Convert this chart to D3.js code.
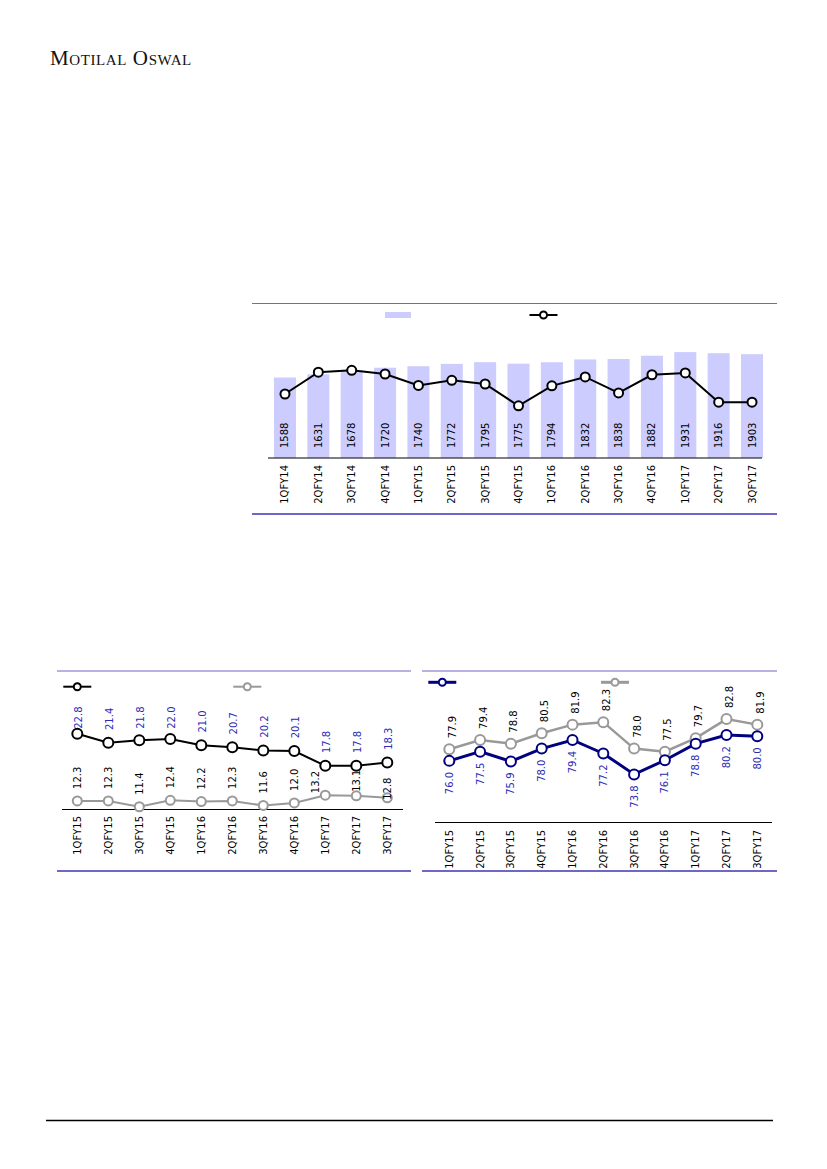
<!DOCTYPE html>
<html>
<head>
<meta charset="utf-8">
<script src="https://cdn.jsdelivr.net/npm/d3@7"></script>
<style>
  body { margin: 0; background: #fff; }
  svg { display: block; font-family: "DejaVu Sans", Verdana, sans-serif; }
</style>
</head>
<body>
<svg id="page" width="827" height="1169"></svg>
<script>
// Top chart: volumes (bars) and a line on a hidden secondary scale
var quartersTop = ['1QFY14', '2QFY14', '3QFY14', '4QFY14', '1QFY15', '2QFY15', '3QFY15', '4QFY15',
    '1QFY16', '2QFY16', '3QFY16', '4QFY16', '1QFY17', '2QFY17', '3QFY17'];
var topBars = [1588, 1631, 1678, 1720, 1740, 1772, 1795, 1775, 1794, 1832, 1838, 1882, 1931, 1916, 1903];
var topLine = [17.3, 23.2, 23.7, 22.7, 19.6, 21.0, 20.0, 14.1, 19.5, 21.9, 17.6, 22.5, 23.0, 15.1, 15.1];

// Bottom charts share the quarters
var quartersBottom = ['1QFY15', '2QFY15', '3QFY15', '4QFY15', '1QFY16', '2QFY16', '3QFY16', '4QFY16',
    '1QFY17', '2QFY17', '3QFY17'];
var leftBlack = [22.8, 21.4, 21.8, 22.0, 21.0, 20.7, 20.2, 20.1, 17.8, 17.8, 18.3];
var leftGrey = [12.3, 12.3, 11.4, 12.4, 12.2, 12.3, 11.6, 12.0, 13.2, 13.1, 12.8];
var rightNavy = [76.0, 77.5, 75.9, 78.0, 79.4, 77.2, 73.8, 76.1, 78.8, 80.2, 80.0];
var rightGrey = [77.9, 79.4, 78.8, 80.5, 81.9, 82.3, 78.0, 77.5, 79.7, 82.8, 81.9];

var svg = d3.select('#page');
var frameColor = '#6f67c4';
var labelBlue = '#2b2bb8';
var fontSize = '10px';

/**** Header and footer ****/
svg.append('text')
    .attr('x', 50).attr('y', 65)
    .style('font-family', '"Liberation Serif", "DejaVu Serif", serif')
    .style('font-variant', 'small-caps')
    .style('font-size', '21px')
    .style('letter-spacing', '0.6px')
    .attr('fill', '#111')
    .text('Motilal Oswal');

svg.append('line')
    .attr('x1', 46).attr('x2', 773)
    .attr('y1', 1120.5).attr('y2', 1120.5)
    .attr('stroke', '#000').attr('stroke-width', 1.3);

function frame(x1, x2, yTop, yBottom) {
    svg.append('line').attr('x1', x1).attr('x2', x2)
        .attr('y1', yTop).attr('y2', yTop)
        .attr('stroke', frameColor).attr('stroke-width', 1.2);
    svg.append('line').attr('x1', x1).attr('x2', x2)
        .attr('y1', yBottom).attr('y2', yBottom)
        .attr('stroke', frameColor).attr('stroke-width', 2);
}

function xLabels(g, scale, cats, y) {
    g.selectAll('.xl')
        .data(cats)
        .enter()
        .append('text')
        .attr('class', 'xl')
        .attr('transform', function(d) {
            return 'translate(' + (scale(d) + 3.5) + ',' + y + ') rotate(-90)';
        })
        .attr('text-anchor', 'end')
        .style('font-size', fontSize)
        .attr('fill', '#000')
        .text(function(d) { return d; });
}

function lineSeries(g, x, y, cats, values, color, width, r) {
    var line = d3.line()
        .x(function(d, i) { return x(cats[i]); })
        .y(function(d) { return y(d); });

    g.append('path')
        .datum(values)
        .attr('d', line)
        .attr('fill', 'none')
        .attr('stroke', color)
        .attr('stroke-width', width);

    g.selectAll(null)
        .data(values)
        .enter()
        .append('circle')
        .attr('cx', function(d, i) { return x(cats[i]); })
        .attr('cy', function(d) { return y(d); })
        .attr('r', r)
        .attr('fill', '#fff')
        .attr('stroke', color)
        .attr('stroke-width', 2);
}

function legendLine(x, y, color, width) {
    svg.append('line').attr('x1', x - 14).attr('x2', x + 14)
        .attr('y1', y).attr('y2', y)
        .attr('stroke', color).attr('stroke-width', width);
    svg.append('circle').attr('cx', x).attr('cy', y).attr('r', 3.5)
        .attr('fill', '#fff').attr('stroke', color).attr('stroke-width', 2);
}

/**** Top chart ****/
(function() {
    frame(252, 777, 303.5, 514);
    var g = svg.append('g');

    var x = d3.scaleBand()
        .domain(quartersTop)
        .range([268.3, 768.7])
        .paddingInner(0.34)
        .paddingOuter(0.17);

    var y = d3.scaleLinear().domain([500, 2500]).range([458, 310]);
    var y2 = d3.scaleLinear().domain([0, 40]).range([458, 310]);

    g.selectAll('.bar')
        .data(topBars)
        .enter()
        .append('rect')
        .attr('class', 'bar')
        .attr('x', function(d, i) { return x(quartersTop[i]); })
        .attr('width', x.bandwidth())
        .attr('y', function(d) { return y(d); })
        .attr('height', function(d) { return y(500) - y(d); })
        .attr('fill', '#ccccff');

    g.selectAll('.barlabel')
        .data(topBars)
        .enter()
        .append('text')
        .attr('class', 'barlabel')
        .attr('transform', function(d, i) {
            return 'translate(' + (x(quartersTop[i]) + x.bandwidth() / 2 + 3.5) + ',448) rotate(-90)';
        })
        .style('font-size', fontSize)
        .attr('fill', '#000')
        .text(function(d) { return d; });

    g.append('line')
        .attr('x1', 268).attr('x2', 762)
        .attr('y1', 458).attr('y2', 458)
        .attr('stroke', '#000').attr('stroke-width', 1);

    var xc = function(d) { return x(d) + x.bandwidth() / 2; };
    lineSeries(g, xc, y2, quartersTop, topLine, '#000', 2, 4.5);

    xLabels(g, xc, quartersTop, 465);

    svg.append('rect').attr('x', 385).attr('y', 312).attr('width', 26).attr('height', 6)
        .attr('fill', '#ccccff');
    legendLine(543.5, 315, '#000', 2);
})();

/**** Bottom left chart ****/
(function() {
    frame(57, 411, 671, 871);
    var g = svg.append('g');

    var x = d3.scalePoint().domain(quartersBottom).range([77.3, 387.3]);
    var y = d3.scaleLinear().domain([11, 27]).range([809.3, 706.9]);
    var plotTop = 706.5;

    g.append('line')
        .attr('x1', 62).attr('x2', 403)
        .attr('y1', 809.5).attr('y2', 809.5)
        .attr('stroke', '#000').attr('stroke-width', 1);

    lineSeries(g, x, y, quartersBottom, leftGrey, '#999999', 2, 4.5);
    lineSeries(g, x, y, quartersBottom, leftBlack, '#000', 2, 5);

    // black series labels, kept inside plot area
    g.selectAll('.lb')
        .data(leftBlack)
        .enter()
        .append('text')
        .attr('transform', function(d, i) {
            var top = Math.max(plotTop, y(d) - 14 - 21);
            return 'translate(' + (x(quartersBottom[i]) + 4.5) + ',' + top + ') rotate(-90)';
        })
        .attr('text-anchor', 'end')
        .style('font-size', fontSize)
        .attr('fill', labelBlue)
        .text(function(d) { return d.toFixed(1); });

    // grey series labels; last few are nudged by the layout
    var nudge = { 8: [-10, 10], 9: [0, 8], 10: [0, 14] };
    g.selectAll('.lg')
        .data(leftGrey)
        .enter()
        .append('text')
        .attr('transform', function(d, i) {
            var n = nudge[i] || [0, 0];
            return 'translate(' + (x(quartersBottom[i]) + 3.5 + n[0]) + ',' + (y(d) - 12 + n[1]) + ') rotate(-90)';
        })
        .style('font-size', fontSize)
        .attr('fill', '#000')
        .text(function(d) { return d.toFixed(1); });

    xLabels(g, x, quartersBottom, 816);

    legendLine(77.3, 686.7, '#000', 2);
    legendLine(247.3, 686.7, '#999999', 2);
})();

/**** Bottom right chart ****/
(function() {
    frame(422, 777, 671, 871);
    var g = svg.append('g');

    var x = d3.scalePoint().domain(quartersBottom).range([449.3, 757.3]);
    var y = d3.scaleLinear().domain([66, 87]).range([822.3, 693.3]);

    g.append('line')
        .attr('x1', 435).attr('x2', 772)
        .attr('y1', 822.5).attr('y2', 822.5)
        .attr('stroke', '#000').attr('stroke-width', 1);

    lineSeries(g, x, y, quartersBottom, rightGrey, '#999999', 2.5, 5);
    lineSeries(g, x, y, quartersBottom, rightNavy, '#000080', 3, 5);

    g.selectAll('.rn')
        .data(rightNavy)
        .enter()
        .append('text')
        .attr('transform', function(d, i) {
            return 'translate(' + (x(quartersBottom[i]) + 3.5) + ',' + (y(d) + 11) + ') rotate(-90)';
        })
        .attr('text-anchor', 'end')
        .style('font-size', fontSize)
        .attr('fill', labelBlue)
        .text(function(d) { return d.toFixed(1); });

    g.selectAll('.rg')
        .data(rightGrey)
        .enter()
        .append('text')
        .attr('transform', function(d, i) {
            return 'translate(' + (x(quartersBottom[i]) + 6.5) + ',' + (y(d) - 11) + ') rotate(-90)';
        })
        .style('font-size', fontSize)
        .attr('fill', '#000')
        .text(function(d) { return d.toFixed(1); });

    xLabels(g, x, quartersBottom, 830);

    legendLine(442.3, 682.3, '#000080', 3);
    legendLine(615, 682.3, '#999999', 3);
})();
</script>
</body>
</html>
